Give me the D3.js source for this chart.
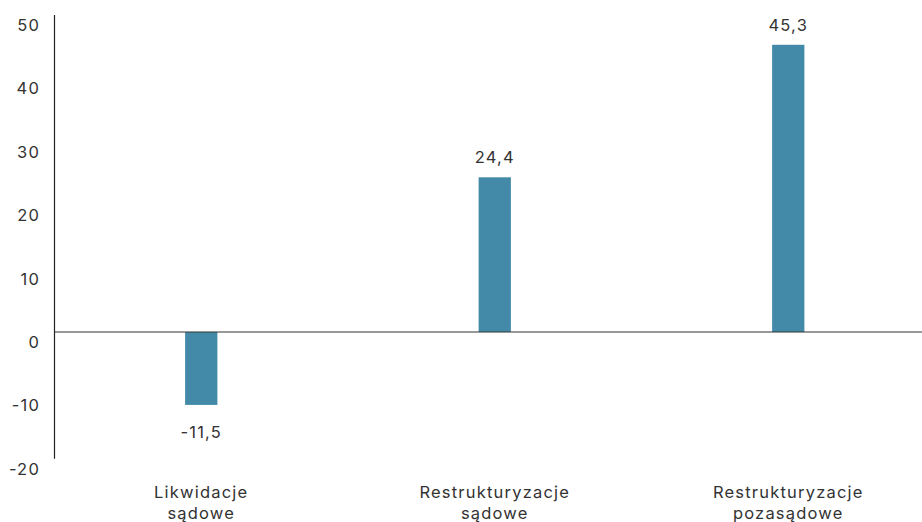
<!DOCTYPE html>
<html>
<head>
<meta charset="utf-8">
<script src="https://cdn.jsdelivr.net/npm/d3@7"></script>
<style>
  html, body { margin: 0; padding: 0; background: #fff; }
  svg text { font-family: "Inter", "Noto Sans", sans-serif; fill: #333; letter-spacing: 1.2px; }
</style>
</head>
<body>
<svg id="chart" width="922" height="522"></svg>
<script>
// Data
const categories = [["Likwidacje", "sądowe"], ["Restrukturyzacje", "sądowe"], ["Restrukturyzacje", "pozasądowe"]];
const values = [-11.5, 24.4, 45.3];
const valueLabels = ["-11,5", "24,4", "45,3"];
const yTicks = [-20, -10, 0, 10, 20, 30, 40, 50];

const svg = d3.select("#chart");
const plotLeft = 54.5, plotRight = 935, plotTop = 15, plotBottom = 458.8;
const fontSize = 16.5;

const x = d3.scaleBand()
  .domain(d3.range(categories.length))
  .range([plotLeft, plotRight])
  .paddingInner(0.89)
  .paddingOuter(0.445);

const y = d3.scaleLinear().domain([-20, 50]).range([plotBottom, plotTop]);

// Y tick labels (no tick marks), sitting just below each value
svg.append("g").selectAll("text")
  .data(yTicks)
  .join("text")
  .attr("x", 40)
  .attr("y", d => y(d) + 16)
  .attr("text-anchor", "end")
  .attr("font-size", fontSize)
  .text(d => d);

// Vertical axis line
svg.append("line")
  .attr("x1", plotLeft).attr("x2", plotLeft)
  .attr("y1", y(50)).attr("y2", y(-20))
  .attr("stroke", "#222").attr("stroke-width", 1.2);

// Bars
svg.append("g").selectAll("rect")
  .data(values)
  .join("rect")
  .attr("x", (d, i) => x(i))
  .attr("width", x.bandwidth())
  .attr("y", d => y(Math.max(0, d)))
  .attr("height", d => Math.abs(y(d) - y(0)))
  .attr("fill", "#428aa7");

// Zero line
svg.append("line")
  .attr("x1", plotLeft).attr("x2", 922)
  .attr("y1", y(0)).attr("y2", y(0))
  .attr("stroke", "#333").attr("stroke-width", 1.2);

// Value labels
svg.append("g").selectAll("text")
  .data(values)
  .join("text")
  .attr("x", (d, i) => x(i) + x.bandwidth() / 2)
  .attr("y", d => d >= 0 ? y(d) - 14 : y(d) + 33)
  .attr("text-anchor", "middle")
  .attr("font-size", fontSize)
  .text((d, i) => valueLabels[i]);

// Category labels (two lines)
const cat = svg.append("g").selectAll("text")
  .data(categories)
  .join("text")
  .attr("x", (d, i) => x(i) + x.bandwidth() / 2)
  .attr("y", 498)
  .attr("text-anchor", "middle")
  .attr("font-size", fontSize);
cat.each(function(d, i) {
  const t = d3.select(this);
  d.forEach((line, j) => {
    t.append("tspan")
      .attr("x", x(i) + x.bandwidth() / 2)
      .attr("dy", j === 0 ? 0 : 21)
      .text(line);
  });
});
</script>
</body>
</html>
